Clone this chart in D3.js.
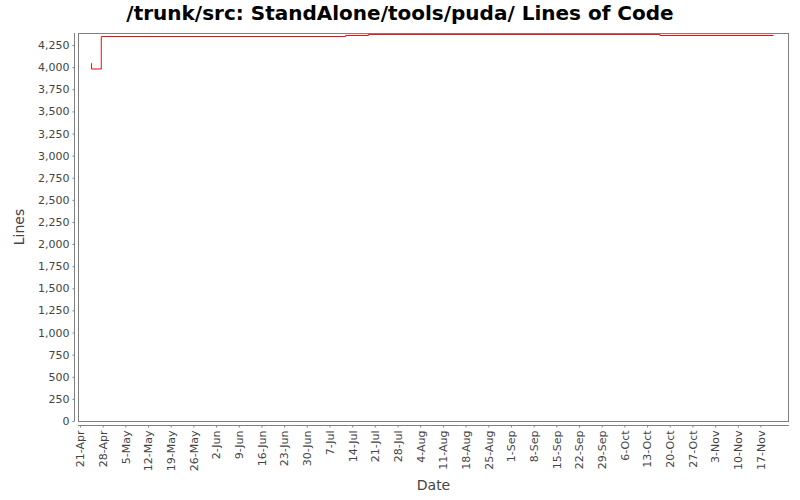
<!DOCTYPE html>
<html>
<head>
<meta charset="utf-8">
<script src="https://cdn.jsdelivr.net/npm/d3@7"></script>
<style>
  body { margin: 0; background: #fff; }
  text { font-family: "DejaVu Sans", sans-serif; }
</style>
</head>
<body>
<div id="chart"></div>
<script>
// data (step series, lines of code over time)
let dates = ["2008-04-24T10:00", "2008-04-24T14:00", "2008-04-27T14:00", "2008-07-12T00:00",
             "2008-07-19T00:00", "2008-10-17T00:00", "2008-11-21T00:00"];
let lines = [4043, 3979, 4346, 4358, 4370, 4358, 4358];
let yTicks = [0, 250, 500, 750, 1000, 1250, 1500, 1750, 2000, 2250, 2500, 2750, 3000,
              3250, 3500, 3750, 4000, 4250];
let xStart = "2008-04-21";
let xWeeks = 31;

let svgWidth = 800;
let svgHeight = 500;

let plot = { left: 78, right: 789, top: 33, bottom: 421 };

let parse = d3.timeParse("%Y-%m-%dT%H:%M");
let obs = dates.map((d, i) => ({ date: parse(d), lines: lines[i] }));

let svg = d3.select("#chart")
    .append("svg")
    .attr("width", svgWidth)
    .attr("height", svgHeight);

// scales
let day = 24 * 3600 * 1000;
let t0 = d3.timeParse("%Y-%m-%d")(xStart);
let xScale = d3.scaleTime()
    .domain([new Date(+t0 - 0.6 * day), new Date(+t0 + 218.8 * day)])
    .range([plot.left, plot.right]);

let yScale = d3.scaleLinear()
    .domain([0, 4386])
    .range([plot.bottom, plot.top]);

// plot frame
svg.append("rect")
    .attr("x", plot.left + 0.5)
    .attr("y", plot.top + 0.5)
    .attr("width", plot.right - plot.left - 1)
    .attr("height", plot.bottom - plot.top)
    .attr("fill", "white")
    .attr("stroke", "#808080");

// y axis
let leftAxis = d3.axisLeft(yScale)
    .tickValues(yTicks)
    .tickFormat(d3.format(","))
    .tickSize(2)
    .tickPadding(3);

let yAxisG = svg.append("g")
    .attr("transform", `translate(74.5, 0)`)
    .call(leftAxis);
yAxisG.select(".domain")
    .attr("d", `M0,${plot.top}V${plot.bottom}`);

// x axis
let weekTicks = d3.range(xWeeks).map(i => d3.timeDay.offset(t0, i * 7));
let bottomAxis = d3.axisBottom(xScale)
    .tickValues(weekTicks)
    .tickFormat(d3.timeFormat("%-d-%b"))
    .tickSize(2);

let xAxisG = svg.append("g")
    .attr("transform", `translate(0, 425.5)`)
    .call(bottomAxis);
xAxisG.select(".domain")
    .attr("d", `M${plot.left},0H${plot.right}`);
xAxisG.selectAll("text")
    .attr("transform", "rotate(-90)")
    .attr("x", -5)
    .attr("y", 0)
    .attr("dy", "0.35em")
    .style("text-anchor", "end");

[yAxisG, xAxisG].forEach(g => {
    g.selectAll(".domain").attr("stroke", "#808080");
    g.selectAll(".tick line").attr("stroke", "#808080");
    g.selectAll("text")
        .attr("fill", "#444")
        .style("font-family", "'DejaVu Sans', sans-serif")
        .style("font-size", "11px");
});

// step line
let line = d3.line()
    .x(d => xScale(d.date))
    .y(d => yScale(d.lines))
    .curve(d3.curveStepAfter);

svg.append("path")
    .datum(obs)
    .attr("d", line)
    .attr("fill", "none")
    .attr("stroke", "#ff0000")
    .attr("stroke-width", 1);

// title and axis labels
svg.append("text")
    .attr("x", 400)
    .attr("y", 20)
    .attr("text-anchor", "middle")
    .style("font-size", "20px")
    .style("font-weight", "bold")
    .text("/trunk/src: StandAlone/tools/puda/ Lines of Code");

svg.append("text")
    .attr("x", (plot.left + plot.right) / 2)
    .attr("y", 490)
    .attr("text-anchor", "middle")
    .attr("fill", "#444")
    .style("font-size", "14px")
    .text("Date");

svg.append("text")
    .attr("transform", `translate(24, ${(plot.top + plot.bottom) / 2}) rotate(-90)`)
    .attr("text-anchor", "middle")
    .attr("fill", "#444")
    .style("font-size", "14px")
    .text("Lines");
</script>
</body>
</html>
